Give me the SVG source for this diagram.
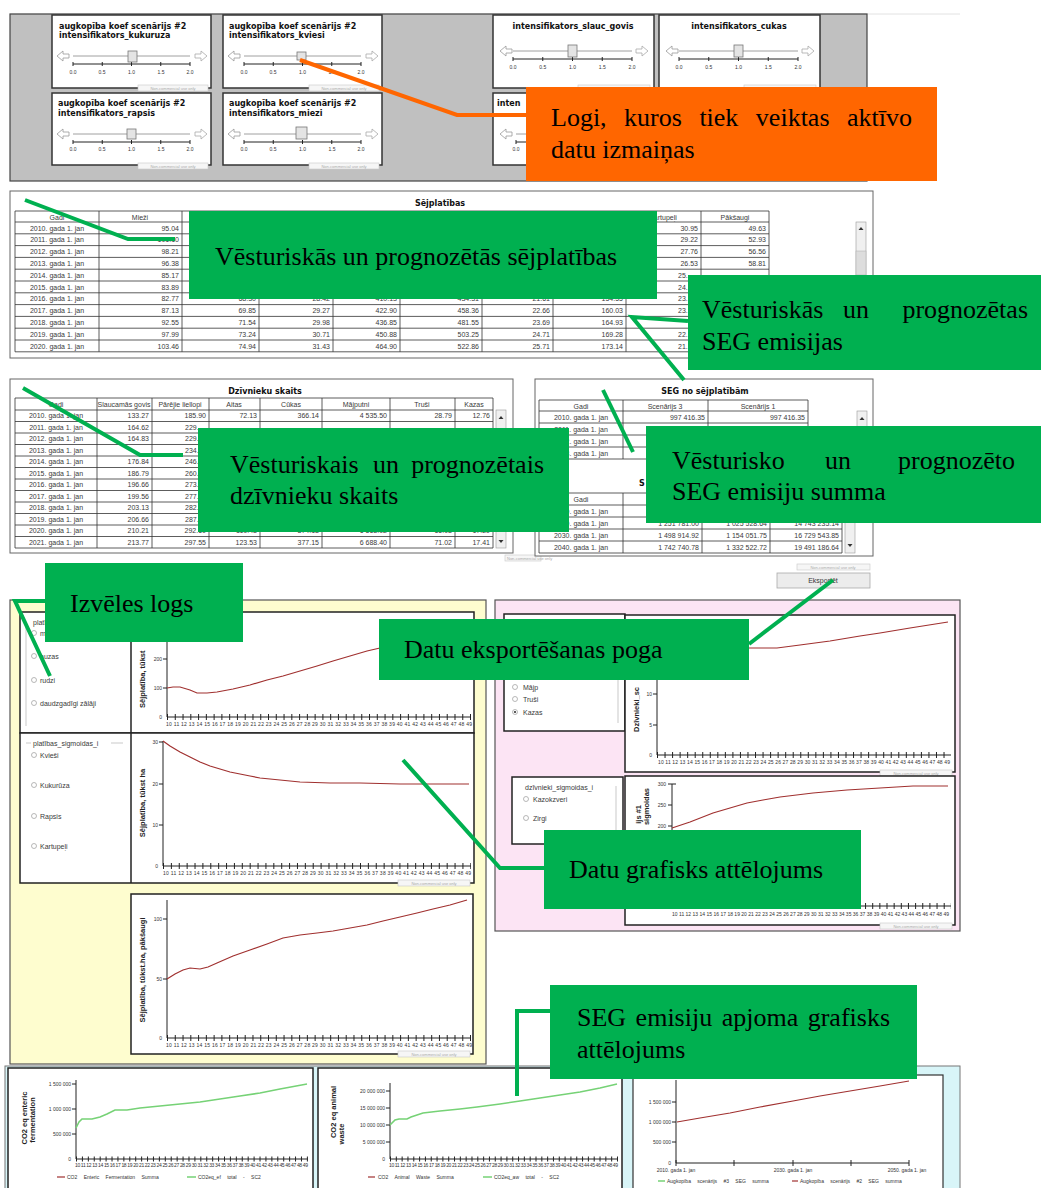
<svg xmlns="http://www.w3.org/2000/svg" width="1041" height="1188" viewBox="0 0 1041 1188">
<style>
.t7{font-family:"Liberation Sans",Arial,sans-serif;font-size:7px;fill:#3a3a3a}
.tv{text-anchor:end}
.tc{text-anchor:middle}
.tt{font-family:"DejaVu Sans",sans-serif;font-size:8px;font-weight:bold;fill:#111}
.ax{font-family:"Liberation Sans",Arial,sans-serif;font-size:5px;fill:#333}
.yl{font-family:"Liberation Sans",Arial,sans-serif;font-size:7.5px;font-weight:bold;fill:#222}
.nc{font-family:"Liberation Sans",Arial,sans-serif;font-size:4px;fill:#aaa}
.ncb{fill:#f6f6f6;stroke:#c8c8c8;stroke-width:0.6}
.ct{font-family:"Liberation Serif","Times New Roman",serif;font-size:26px;fill:#000}
.grid{fill:none;stroke:#333;stroke-width:0.8}
.box{fill:#fff;stroke:#333;stroke-width:1.5}
.frm{fill:#fff;stroke:#222;stroke-width:1.5}
.co{fill:none;stroke:#00B050;stroke-width:4;stroke-linejoin:miter}
.oc{fill:none;stroke:#FF6600;stroke-width:4}
.cg{fill:#00B050}
.cr{fill:none;stroke:#A0302F;stroke-width:1.2}
.cgr{fill:none;stroke:#76D276;stroke-width:1.6}
.axl{fill:none;stroke:#222;stroke-width:1}
.thumb{fill:#e4e4e4;stroke:#777;stroke-width:0.8}
.rad{fill:#fff;stroke:#999;stroke-width:0.7}
.sb{fill:#f0f0f0;stroke:#999;stroke-width:0.6}
</style>
<defs>
<g id="sl">
<path d="M5,41 l6,-5 v3 h6 v4 h-6 v3 z" fill="#fff" stroke="#999" stroke-width="0.8"/>
<line x1="21" y1="41" x2="138" y2="41" stroke="#888" stroke-width="0.8"/>
<path d="M155,41 l-6,-5 v3 h-6 v4 h6 v3 z" fill="#fff" stroke="#aaa" stroke-width="0.8"/>
<line x1="21" y1="49" x2="138" y2="49" stroke="#222" stroke-width="1"/>
<path d="M21,47 v4 M50.25,47 v4 M79.5,47 v4 M108.75,47 v4 M138,47 v4" stroke="#222" stroke-width="1"/>
</g>
<g id="sl2">
<path d="M7,36 l6,-5 v3 h6 v4 h-6 v3 z" fill="#fff" stroke="#999" stroke-width="0.8"/>
<line x1="20" y1="36" x2="139" y2="36" stroke="#888" stroke-width="0.8"/>
<path d="M155,36 l-6,-5 v3 h-6 v4 h6 v3 z" fill="#fff" stroke="#aaa" stroke-width="0.8"/>
<line x1="20" y1="44" x2="139" y2="44" stroke="#222" stroke-width="1"/>
<path d="M20,42 v4 M49.75,42 v4 M79.5,42 v4 M109.25,42 v4 M139,42 v4" stroke="#222" stroke-width="1"/>
</g>
</defs>

<rect width="1041" height="1188" fill="#fff"/>

<!-- ===== Top slider panel ===== -->
<g id="slider-panel">
<line x1="10" y1="14" x2="960" y2="14" stroke="#e2e2e2" stroke-width="1"/>
<rect x="10" y="14" width="857" height="167" fill="#c0c0c0" stroke="#444" stroke-width="1.2"/>
<rect class="box" x="52" y="15" width="159" height="73"/>
<text class="tt" x="59" y="29">augkopība koef scenārijs #2</text>
<text class="tt" x="59" y="38">intensifikators_kukuruza</text>
<use href="#sl" x="52" y="15"/>
<rect class="thumb" x="128" y="51" width="9" height="11"/>
<g class="ax tc"><text x="73" y="74">0.0</text><text x="102" y="74">0.5</text><text x="131.5" y="74">1.0</text><text x="161" y="74">1.5</text><text x="190" y="74">2.0</text></g>
<rect class="ncb" x="138" y="85" width="70" height="6"/><text class="nc" x="173" y="89.8" text-anchor="middle">Non-commercial use only</text>
<rect class="box" x="223" y="15" width="159" height="73"/>
<text class="tt" x="229" y="29">augkopība  koef scenārijs #2</text>
<text class="tt" x="229" y="38">intensifikators_kviesi</text>
<use href="#sl" x="223" y="15"/>
<rect class="thumb" x="297" y="52" width="9" height="8"/>
<g class="ax tc"><text x="244" y="74">0.0</text><text x="273" y="74">0.5</text><text x="302.5" y="74">1.0</text><text x="332" y="74">1.5</text><text x="361" y="74">2.0</text></g>
<rect class="ncb" x="309" y="85" width="70" height="6"/><text class="nc" x="344" y="89.8" text-anchor="middle">Non-commercial use only</text>
<rect class="box" x="52" y="93" width="159" height="72"/>
<text class="tt" x="58" y="106">augkopība  koef scenārijs #2</text>
<text class="tt" x="58" y="116">intensifikators_rapsis</text>
<use href="#sl" x="52" y="93"/>
<rect class="thumb" x="127" y="129" width="9" height="10"/>
<g class="ax tc"><text x="73" y="151">0.0</text><text x="102" y="151">0.5</text><text x="131.5" y="151">1.0</text><text x="161" y="151">1.5</text><text x="190" y="151">2.0</text></g>
<rect class="ncb" x="138" y="163" width="70" height="6"/><text class="nc" x="173" y="167.8" text-anchor="middle">Non-commercial use only</text>
<rect class="box" x="223" y="93" width="159" height="72"/>
<text class="tt" x="229" y="106">augkopība  koef scenārijs #2</text>
<text class="tt" x="229" y="116">intensifikators_miezi</text>
<use href="#sl" x="223" y="93"/>
<rect class="thumb" x="296" y="127" width="11" height="12"/>
<g class="ax tc"><text x="244" y="151">0.0</text><text x="273" y="151">0.5</text><text x="302.5" y="151">1.0</text><text x="332" y="151">1.5</text><text x="361" y="151">2.0</text></g>
<rect class="ncb" x="309" y="163" width="70" height="6"/><text class="nc" x="344" y="167.8" text-anchor="middle">Non-commercial use only</text>
<rect class="box" x="493" y="15" width="161" height="73"/>
<text class="tt tc" x="573" y="29">intensifikators_slauc_govis</text>
<use href="#sl2" x="493" y="15"/>
<rect class="thumb" x="568" y="45" width="9" height="12"/>
<g class="ax tc"><text x="513" y="69">0.0</text><text x="542.75" y="69">0.5</text><text x="572.5" y="69">1.0</text><text x="602.25" y="69">1.5</text><text x="632" y="69">2.0</text></g>
<rect class="ncb" x="578" y="85" width="72" height="6"/>
<rect class="box" x="659" y="15" width="161" height="73"/>
<text class="tt tc" x="739" y="29">intensifikators_cukas</text>
<use href="#sl2" x="659" y="15"/>
<rect class="thumb" x="734" y="45" width="9" height="12"/>
<g class="ax tc"><text x="679" y="69">0.0</text><text x="708.75" y="69">0.5</text><text x="738.5" y="69">1.0</text><text x="768.25" y="69">1.5</text><text x="798" y="69">2.0</text></g>
<rect class="ncb" x="744" y="85" width="72" height="6"/>
<rect class="box" x="493" y="93" width="161" height="72"/>
<text class="tt" x="497" y="106">inten</text>
<use href="#sl" x="495" y="93"/>
<text class="ax tc" x="516" y="151">0.0</text>
</g>

<!-- ===== Sējplatības table ===== -->
<g id="sejplatibas-table">
<rect x="10" y="191" width="863" height="167" fill="#fff" stroke="#666" stroke-width="1"/>
<text class="tt tc" x="440" y="206">Sējplatības</text>
<path class="grid" d="M15,211 H769 M15,222 H769 M15,233.8 H769 M15,245.6 H769 M15,257.4 H769 M15,269.2 H769 M15,281 H769 M15,292.8 H769 M15,304.6 H769 M15,316.4 H769 M15,328.2 H769 M15,340 H769 M15,351.8 H769 M15,211 V351.8 M99,211 V351.8 M182,211 V351.8 M259,211 V351.8 M333,211 V351.8 M400,211 V351.8 M482,211 V351.8 M553,211 V351.8 M626,211 V351.8 M701,211 V351.8 M769,211 V351.8"/>
<g class="t7 tc"><text x="57" y="219.5">Gadi</text><text x="140" y="219.5">Mieži</text><text x="663" y="219.5">Kartupeļi</text><text x="735" y="219.5">Pākšaugi</text></g>
<g class="t7 tc">
<text x="57" y="230.5">2010. gada 1. jan</text><text x="57" y="242.3">2011. gada 1. jan</text><text x="57" y="254.1">2012. gada 1. jan</text><text x="57" y="265.9">2013. gada 1. jan</text><text x="57" y="277.7">2014. gada 1. jan</text><text x="57" y="289.5">2015. gada 1. jan</text><text x="57" y="301.3">2016. gada 1. jan</text><text x="57" y="313.1">2017. gada 1. jan</text><text x="57" y="324.9">2018. gada 1. jan</text><text x="57" y="336.7">2019. gada 1. jan</text><text x="57" y="348.5">2020. gada 1. jan</text>
</g>
<g class="t7 tv">
<text x="179" y="230.5">95.04</text><text x="179" y="242.3">101.10</text><text x="179" y="254.1">98.21</text><text x="179" y="265.9">96.38</text><text x="179" y="277.7">85.17</text><text x="179" y="289.5">83.89</text><text x="179" y="301.3">82.77</text><text x="179" y="313.1">87.13</text><text x="179" y="324.9">92.55</text><text x="179" y="336.7">97.99</text><text x="179" y="348.5">103.46</text>
<text x="256" y="301.3">68.30</text><text x="256" y="313.1">69.85</text><text x="256" y="324.9">71.54</text><text x="256" y="336.7">73.24</text><text x="256" y="348.5">74.94</text>
<text x="330" y="301.3">28.42</text><text x="330" y="313.1">29.27</text><text x="330" y="324.9">29.98</text><text x="330" y="336.7">30.71</text><text x="330" y="348.5">31.43</text>
<text x="397" y="301.3">410.13</text><text x="397" y="313.1">422.90</text><text x="397" y="324.9">436.85</text><text x="397" y="336.7">450.88</text><text x="397" y="348.5">464.90</text>
<text x="479" y="301.3">434.31</text><text x="479" y="313.1">458.36</text><text x="479" y="324.9">481.55</text><text x="479" y="336.7">503.25</text><text x="479" y="348.5">522.86</text>
<text x="550" y="301.3">21.61</text><text x="550" y="313.1">22.66</text><text x="550" y="324.9">23.69</text><text x="550" y="336.7">24.71</text><text x="550" y="348.5">25.71</text>
<text x="623" y="301.3">154.55</text><text x="623" y="313.1">160.03</text><text x="623" y="324.9">164.93</text><text x="623" y="336.7">169.28</text><text x="623" y="348.5">173.14</text>
<text x="698" y="230.5">30.95</text><text x="698" y="242.3">29.22</text><text x="698" y="254.1">27.76</text><text x="698" y="265.9">26.53</text>
<text x="766" y="230.5">49.63</text><text x="766" y="242.3">52.93</text><text x="766" y="254.1">56.56</text><text x="766" y="265.9">58.81</text>
</g>
<g class="t7"><text x="678" y="277.7">25.</text><text x="678" y="289.5">24.</text><text x="678" y="301.3">23.</text><text x="678" y="313.1">23.</text><text x="678" y="336.7">22.</text><text x="678" y="348.5">21.</text></g>
<rect class="sb" x="856" y="222" width="10" height="130"/>
<rect x="856" y="251" width="10" height="24" fill="#ddd" stroke="#aaa" stroke-width="0.5"/>
<path d="M858.5,230 l2.5,-3 l2.5,3 z" fill="#333"/>
<rect class="ncb" x="797" y="358" width="73" height="6"/><text class="nc" x="833" y="362.8" text-anchor="middle">Non-commercial use only</text>
</g>

<!-- ===== Dzīvnieku skaits table ===== -->
<g id="dzivnieku-table">
<rect x="10" y="379" width="503" height="174" fill="#fff" stroke="#666" stroke-width="1"/>
<text class="tt tc" x="265" y="394">Dzīvnieku skaits</text>
<path class="grid" d="M15,398 H493 M15,410 H493 M15,421.5 H493 M15,433 H493 M15,444.5 H493 M15,456 H493 M15,467.5 H493 M15,479 H493 M15,490.5 H493 M15,502 H493 M15,513.5 H493 M15,525 H493 M15,536.5 H493 M15,548 H493 M15,398 V548 M97,398 V548 M152,398 V548 M209,398 V548 M260,398 V548 M322,398 V548 M390,398 V548 M455,398 V548 M493,398 V548"/>
<g class="t7 tc" font-size="6.5"><text x="56" y="406.5">Gadi</text><text x="124" y="406.5">Slaucamās govis</text><text x="180" y="406.5">Pārējie liellopi</text><text x="234" y="406.5">Aitas</text><text x="291" y="406.5">Cūkas</text><text x="356" y="406.5">Mājputni</text><text x="422" y="406.5">Truši</text><text x="474" y="406.5">Kazas</text></g>
<g class="t7 tc">
<text x="56" y="418.3">2010. gada 1. jan</text><text x="56" y="429.8">2011. gada 1. jan</text><text x="56" y="441.3">2012. gada 1. jan</text><text x="56" y="452.8">2013. gada 1. jan</text><text x="56" y="464.3">2014. gada 1. jan</text><text x="56" y="475.8">2015. gada 1. jan</text><text x="56" y="487.3">2016. gada 1. jan</text><text x="56" y="498.8">2017. gada 1. jan</text><text x="56" y="510.3">2018. gada 1. jan</text><text x="56" y="521.8">2019. gada 1. jan</text><text x="56" y="533.3">2020. gada 1. jan</text><text x="56" y="544.8">2021. gada 1. jan</text>
</g>
<g class="t7 tv">
<text x="149" y="418.3">133.27</text><text x="149" y="429.8">164.62</text><text x="149" y="441.3">164.83</text><text x="149" y="464.3">176.84</text><text x="149" y="475.8">186.79</text><text x="149" y="487.3">196.66</text><text x="149" y="498.8">199.56</text><text x="149" y="510.3">203.13</text><text x="149" y="521.8">206.66</text><text x="149" y="533.3">210.21</text><text x="149" y="544.8">213.77</text>
<text x="206" y="418.3">185.90</text><text x="206" y="533.3">292.60</text><text x="206" y="544.8">297.55</text>
<text x="257" y="418.3">72.13</text><text x="257" y="533.3">119.43</text><text x="257" y="544.8">123.53</text>
<text x="319" y="418.3">366.14</text><text x="319" y="533.3">374.13</text><text x="319" y="544.8">377.15</text>
<text x="387" y="418.3">4 535.50</text><text x="387" y="533.3">6 568.02</text><text x="387" y="544.8">6 688.40</text>
<text x="452" y="418.3">28.79</text><text x="452" y="533.3">65.08</text><text x="452" y="544.8">71.02</text>
<text x="490" y="418.3">12.76</text><text x="490" y="533.3">17.29</text><text x="490" y="544.8">17.41</text>
</g>
<g class="t7"><text x="185" y="429.8">229.</text><text x="185" y="441.3">229.</text><text x="185" y="452.8">234.</text><text x="185" y="464.3">246.</text><text x="185" y="475.8">260.</text><text x="185" y="487.3">273.</text><text x="185" y="498.8">277.</text><text x="185" y="510.3">282.</text><text x="185" y="521.8">287.</text></g>
<rect class="sb" x="496" y="410" width="10" height="138"/>
<path d="M498.5,419 l2.5,-3 l2.5,3 z M498.5,540 l2.5,3 l2.5,-3 z" fill="#333"/>
<rect class="ncb" x="505" y="555" width="36" height="6"/><text class="nc" x="507" y="559.8">Non-commercial use only</text>
</g>

<!-- ===== SEG no sējplatībām table ===== -->
<g id="seg-table">
<rect x="535" y="379" width="338" height="177" fill="#fff" stroke="#666" stroke-width="1"/>
<text class="tt tc" x="705" y="394">SEG no sējplatībām</text>
<path class="grid" d="M539,400 H808 M539,411 H808 M539,423 H808 M539,435 H808 M539,447 H808 M539,459 H808 M539,400 V459 M623,400 V459 M708,400 V459 M808,400 V459"/>
<g class="t7 tc" font-size="6.5"><text x="581" y="408.5">Gadi</text><text x="665" y="408.5">Scenārijs 3</text><text x="758" y="408.5">Scenārijs 1</text></g>
<g class="t7 tc"><text x="581" y="419.5">2010. gada 1. jan</text><text x="581" y="431.5">2011. gada 1. jan</text><text x="581" y="443.5">2012. gada 1. jan</text><text x="581" y="455.5">2013. gada 1. jan</text></g>
<g class="t7 tv"><text x="705" y="419.5">997 416.35</text><text x="805" y="419.5">997 416.35</text></g>
<rect class="sb" x="857" y="411" width="10" height="48"/>
<path d="M859.5,420 l2.5,-3 l2.5,3 z" fill="#333"/>
<text class="tt" x="639" y="486">S</text>
<path class="grid" d="M539,493 H842 M539,505 H842 M539,517 H842 M539,529 H842 M539,541 H842 M539,553 H842 M539,493 V553 M623,493 V553 M702,493 V553 M770,493 V553 M842,493 V553"/>
<text class="t7 tc" font-size="6.5" x="581" y="501.5">Gadi</text>
<g class="t7 tc"><text x="581" y="513.5">2010. gada 1. jan</text><text x="581" y="525.5">2020. gada 1. jan</text><text x="581" y="537.5">2030. gada 1. jan</text><text x="581" y="549.5">2040. gada 1. jan</text></g>
<g class="t7 tv">
<text x="699" y="525.5">1 251 781.00</text><text x="767" y="525.5">1 025 528.64</text><text x="839" y="525.5">14 743 235.14</text>
<text x="699" y="537.5">1 498 914.92</text><text x="767" y="537.5">1 154 051.75</text><text x="839" y="537.5">16 729 543.85</text>
<text x="699" y="549.5">1 742 740.78</text><text x="767" y="549.5">1 332 522.72</text><text x="839" y="549.5">19 491 186.64</text>
</g>
<rect class="sb" x="845" y="505" width="10" height="48"/>
<path d="M847.5,544 l2.5,3 l2.5,-3 z" fill="#333"/>
<rect class="ncb" x="797" y="564" width="73" height="6"/><text class="nc" x="833" y="568.8" text-anchor="middle">Non-commercial use only</text>
</g>

<!-- Export button -->
<g id="export-button">
<rect x="777" y="573" width="93" height="15" fill="#ececec" stroke="#aaa" stroke-width="0.8"/>
<text class="t7 tc" x="823" y="583">Eksportēt</text>
</g>

<!-- ===== Yellow panel (plant areas) ===== -->
<g id="yellow-panel">
<rect x="10" y="600" width="476" height="464" fill="#fefdcf" stroke="#555" stroke-width="1.2"/>
<rect class="frm" x="20" y="612" width="454" height="121"/>
<rect class="frm" x="20" y="733" width="454" height="150"/>
<line x1="131" y1="612" x2="131" y2="883" stroke="#222" stroke-width="1.5"/>
<rect class="frm" x="131" y="894" width="342" height="160"/>
<line x1="26" y1="626" x2="26" y2="726" stroke="#bbb" stroke-width="0.8"/>
<text class="t7" x="33" y="625">platības</text>
<circle class="rad" cx="34" cy="633" r="2.5"/><text class="t7" x="40" y="636">m</text>
<circle class="rad" cx="34" cy="656" r="2.5"/><text class="t7" x="40" y="659">auzas</text>
<circle class="rad" cx="34" cy="680" r="2.5"/><text class="t7" x="40" y="683">rudzi</text>
<circle class="rad" cx="34" cy="703" r="2.5"/><text class="t7" x="40" y="706">daudzgadīgi zālāji</text>
<path d="M26,743 H31 M111,743 H123" stroke="#bbb" stroke-width="0.8"/>
<text class="t7" x="33" y="746">platības_sigmoidas_i</text>
<circle class="rad" cx="34" cy="755" r="2.5"/><text class="t7" x="40" y="758">Kvieši</text>
<circle class="rad" cx="34" cy="785" r="2.5"/><text class="t7" x="40" y="788">Kukurūza</text>
<circle class="rad" cx="34" cy="816" r="2.5"/><text class="t7" x="40" y="819">Rapsis</text>
<circle class="rad" cx="34" cy="846" r="2.5"/><text class="t7" x="40" y="849">Kartupeļi</text>
<text class="yl" transform="translate(145,708) rotate(-90)">Sējplatība, tūkst</text>
<path class="axl" d="M167,640 V717 H471"/>
<line x1="167" y1="717" x2="471" y2="717" stroke="#222" stroke-width="6" stroke-dasharray="1 6.77"/>
<path class="axl" d="M163,659 H167 M163,688 H167"/>
<g class="ax tv"><text x="162" y="661">200</text><text x="162" y="690">100</text><text x="162" y="719">0</text></g>
<text class="ax" x="166" y="725.5" textLength="306" lengthAdjust="spacing">10 11 12 13 14 15 16 17 18 19 20 21 22 23 24 25 26 27 28 29 30 31 32 33 34 35 36 37 38 39 40 41 42 43 44 45 46 47 48 49</text>
<polyline class="cr" points="167,688 173,687 180,687 190,690 197,693 207,693 217,692 233,689 250,685 267,680 283,676 300,671 317,666 333,661 350,656 367,651 380,648"/>
<text class="yl tc" transform="translate(145,803) rotate(-90)">Sējplatība, tūkst ha</text>
<path class="axl" d="M163,741 V866 H471"/>
<line x1="163" y1="866" x2="471" y2="866" stroke="#222" stroke-width="6" stroke-dasharray="1 6.88"/>
<path class="axl" d="M159,742 H163 M159,784 H163 M159,825 H163"/>
<g class="ax tv"><text x="158" y="744">30</text><text x="158" y="786">20</text><text x="158" y="827">10</text><text x="158" y="868">0</text></g>
<text class="ax" x="163" y="875" textLength="308" lengthAdjust="spacing">10 11 12 13 14 15 16 17 18 19 20 21 22 23 24 25 26 27 28 29 30 31 32 33 34 35 36 37 38 39 40 41 42 43 44 45 46 47 48 49</text>
<polyline class="cr" points="163,741 170,746 180,752 190,757 200,762 210,766 220,769 230,772 240,774 250,776 260,778 270,779 280,780 300,782 330,783 360,783 400,784 469,784"/>
<rect class="ncb" x="398" y="880" width="72" height="6"/><text class="nc" x="434" y="884.8" text-anchor="middle">Non-commercial use only</text>
<text class="yl tc" transform="translate(145,970) rotate(-90)">Sējplatība, tūkst.ha, pākšaugi</text>
<path class="axl" d="M167,900 V1038 H471"/>
<line x1="167" y1="1038" x2="471" y2="1038" stroke="#222" stroke-width="6" stroke-dasharray="1 6.77"/>
<path class="axl" d="M163,919 H167 M163,979 H167"/>
<g class="ax tv"><text x="162" y="921">100</text><text x="162" y="981">50</text><text x="162" y="1040">0</text></g>
<text class="ax" x="166" y="1046.5" textLength="306" lengthAdjust="spacing">10 11 12 13 14 15 16 17 18 19 20 21 22 23 24 25 26 27 28 29 30 31 32 33 34 35 36 37 38 39 40 41 42 43 44 45 46 47 48 49</text>
<polyline class="cr" points="167,979 175,974 183,970 190,968 200,969 208,967 217,963 233,956 250,950 267,944 283,938 300,935 317,933 333,931 350,928 367,925 383,921 400,917 417,913 433,909 450,905 467,900"/>
<rect class="ncb" x="398" y="1051" width="72" height="6"/><text class="nc" x="434" y="1055.8" text-anchor="middle">Non-commercial use only</text>
</g>

<!-- ===== Pink panel (animals) ===== -->
<g id="pink-panel">
<rect x="495" y="600" width="465" height="331" fill="#fce4f4" stroke="#555" stroke-width="1.2"/>
<rect class="frm" x="504" y="614" width="121" height="117"/>
<line x1="618" y1="640" x2="618" y2="723" stroke="#bbb" stroke-width="0.8"/>
<circle class="rad" cx="515" cy="687" r="2.5"/><text class="t7" x="523" y="690">Mājp</text>
<circle class="rad" cx="515" cy="699" r="2.5"/><text class="t7" x="523" y="702">Truši</text>
<circle class="rad" cx="515" cy="712" r="2.5"/><circle cx="515" cy="712" r="1.1" fill="#333"/><text class="t7" x="523" y="715">Kazas</text>
<rect class="frm" x="625" y="615" width="330" height="157"/>
<text class="yl" transform="translate(639,732) rotate(-90)">Dzīvnieki_sc</text>
<path class="axl" d="M657,640 V755 H951"/>
<line x1="657" y1="755" x2="951" y2="755" stroke="#222" stroke-width="6" stroke-dasharray="1 6.54"/>
<path class="axl" d="M653,694 H657 M653,725 H657"/>
<g class="ax tv"><text x="652" y="696">10</text><text x="652" y="727">5</text><text x="652" y="757">0</text></g>
<text class="ax" x="658" y="764" textLength="292" lengthAdjust="spacing">10 11 12 13 14 15 16 17 18 19 20 21 22 23 24 25 26 27 28 29 30 31 32 33 34 35 36 37 38 39 40 41 42 43 44 45 46 47 48 49</text>
<polyline class="cr" points="749,648 777,648 800,645 830,641 860,636 880,633 910,628 948,622"/>
<rect class="ncb" x="880" y="770" width="72" height="6"/><text class="nc" x="916" y="774.8" text-anchor="middle">Non-commercial use only</text>
<rect class="frm" x="512" y="777" width="111" height="67"/>
<line x1="616" y1="786" x2="616" y2="836" stroke="#bbb" stroke-width="0.8"/>
<text class="t7" x="525" y="790">dzīvnieki_sigmoidas_i</text>
<circle class="rad" cx="526" cy="799" r="2.5"/><text class="t7" x="533" y="802">Kazokzveri</text>
<circle class="rad" cx="526" cy="818" r="2.5"/><text class="t7" x="533" y="821">Zirgi</text>
<rect class="frm" x="625" y="776" width="330" height="149"/>
<text class="yl tv" transform="translate(641,805) rotate(-90)">ijs #1</text>
<text class="yl tv" transform="translate(649,788) rotate(-90)">sigmoidas</text>
<path class="axl" d="M672,784 V906 H951"/>
<line x1="672" y1="906" x2="951" y2="906" stroke="#222" stroke-width="6" stroke-dasharray="1 6.15"/>
<path class="axl" d="M668,784 H676 M668,805 H672 M668,826 H672"/>
<g class="ax tv"><text x="666" y="786">300</text><text x="666" y="807">250</text><text x="666" y="828">200</text></g>
<text class="ax" x="672" y="916" textLength="277" lengthAdjust="spacing">10 11 12 13 14 15 16 17 18 19 20 21 22 23 24 25 26 27 28 29 30 31 32 33 34 35 36 37 38 39 40 41 42 43 44 45 46 47 48 49</text>
<polyline class="cr" points="672,828 690,822 713,813 730,808 747,803 763,800 780,797 813,793 847,790 880,788 913,786 948,786"/>
<rect class="ncb" x="880" y="923" width="72" height="6"/><text class="nc" x="916" y="927.8" text-anchor="middle">Non-commercial use only</text>
</g>

<!-- ===== Bottom emissions charts ===== -->
<g id="emission-charts">
<rect x="5" y="1066" width="955" height="124" fill="#d8f5f8" stroke="#777" stroke-width="1"/>
<rect class="frm" x="8" y="1068" width="305" height="122"/>
<rect class="frm" x="318" y="1068" width="304" height="122"/>
<rect x="633" y="1075" width="310" height="115" fill="#fff" stroke="#333" stroke-width="1.2"/>
<text class="yl tc" transform="translate(27,1118) rotate(-90)">CO2 eq enteric</text>
<text class="yl tc" transform="translate(35,1120) rotate(-90)">fermentation</text>
<path class="axl" d="M76,1080 V1159 H308"/>
<line x1="76" y1="1159" x2="308" y2="1159" stroke="#222" stroke-width="5" stroke-dasharray="1 4.92"/>
<path class="axl" d="M72,1084 H76 M72,1109 H76 M72,1134 H76"/>
<g class="ax tv" font-size="4.5"><text x="71" y="1086">1 500 000</text><text x="71" y="1111">1 000 000</text><text x="71" y="1136">500 000</text><text x="71" y="1161">0</text></g>
<text class="ax" x="75" y="1167" font-size="4" textLength="233" lengthAdjust="spacing">10 11 12 13 14 15 16 17 18 19 20 21 22 23 24 25 26 27 28 29 30 31 32 33 34 35 36 37 38 39 40 41 42 43 44 45 46 47 48 49</text>
<polyline class="cgr" points="76,1128 79,1122 82,1119 92,1119 100,1117 107,1114 115,1110 127,1110 140,1108 160,1106 180,1104 200,1102 220,1099 240,1096 260,1093 280,1089 307,1084"/>
<line x1="57" y1="1177" x2="65" y2="1177" stroke="#A0302F" stroke-width="1.2"/>
<text class="ax" x="67" y="1179" word-spacing="5">CO2 Enteric Fermentation Summa</text>
<line x1="187" y1="1177" x2="196" y2="1177" stroke="#76D276" stroke-width="1.5"/>
<text class="ax" x="198" y="1179" word-spacing="5">CO2eq_ef total - SC2</text>
<text class="yl tc" transform="translate(336,1112) rotate(-90)">CO2 eq animal</text>
<text class="yl tc" transform="translate(344,1134) rotate(-90)">waste</text>
<path class="axl" d="M390,1083 V1159 H618"/>
<line x1="390" y1="1159" x2="618" y2="1159" stroke="#222" stroke-width="5" stroke-dasharray="1 4.82"/>
<path class="axl" d="M386,1091 H390 M386,1108 H390 M386,1125 H390 M386,1142 H390"/>
<g class="ax tv" font-size="4.5"><text x="385" y="1093">20 000 000</text><text x="385" y="1110">15 000 000</text><text x="385" y="1127">10 000 000</text><text x="385" y="1144">5 000 000</text><text x="385" y="1161">0</text></g>
<text class="ax" x="389" y="1167" font-size="4" textLength="229" lengthAdjust="spacing">10 11 12 13 14 15 16 17 18 19 20 21 22 23 24 25 26 27 28 29 30 31 32 33 34 35 36 37 38 39 40 41 42 43 44 45 46 47 48 49</text>
<polyline class="cgr" points="390,1125 395,1120 399,1119 407,1119 411,1117 423,1113 440,1111 460,1109 477,1107 500,1104 520,1101 540,1098 560,1095 580,1092 600,1088 617,1084"/>
<line x1="368" y1="1177" x2="375" y2="1177" stroke="#A0302F" stroke-width="1.2"/>
<text class="ax" x="378" y="1179" word-spacing="5">CO2 Animal Waste Summa</text>
<line x1="483" y1="1177" x2="492" y2="1177" stroke="#76D276" stroke-width="1.5"/>
<text class="ax" x="494" y="1179" word-spacing="5">CO2eq_aw total - SC2</text>
<path class="axl" d="M676,1080 V1163 H909"/>
<path class="axl" d="M672,1102 H676 M672,1122 H676 M672,1142 H676 M676,1160 V1166 M734,1160 V1166 M793,1160 V1166 M851,1160 V1166 M909,1160 V1166"/>
<g class="ax tv" font-size="4.5"><text x="671" y="1104">1 500 000</text><text x="671" y="1124">1 000 000</text><text x="671" y="1144">500 000</text><text x="671" y="1165">0</text></g>
<g class="ax tc" font-size="4.5"><text x="676" y="1172">2010. gada 1. jan</text><text x="793" y="1172">2030. gada 1. jan</text><text x="907" y="1172">2050. gada 1. jan</text></g>
<polyline class="cr" points="677,1122 700,1118 730,1113 760,1107 793,1101 820,1096 850,1091 880,1086 909,1081"/>
<line x1="658" y1="1181" x2="665" y2="1181" stroke="#76D276" stroke-width="1.5"/>
<text class="ax" x="667" y="1183" font-size="4.5" word-spacing="5">Augkopība scenārijs #3 SEG summa</text>
<line x1="792" y1="1181" x2="798" y2="1181" stroke="#A0302F" stroke-width="1.2"/>
<text class="ax" x="800" y="1183" font-size="4.5" word-spacing="5">Augkopība scenārijs #2 SEG summa</text>
</g>

<!-- ===== Connectors ===== -->
<g id="connectors">
<polyline class="oc" points="300,60 457,115 526,115"/>
<polyline class="co" points="25,200 128,239 175,239"/>
<polyline class="co" points="688,321 632,317 684,380"/>
<polyline class="co" points="23,388 140,455 183,455"/>
<polyline class="co" points="603,390 633,452"/>
<polyline class="co" points="45,601 15,601 50,676"/>
<polyline class="co" points="749,644 833,580"/>
<polyline class="co" points="403,760 500,868 544,868"/>
<polyline class="co" points="517,1096 517,1011 550,1011"/>
</g>

<!-- ===== Callouts ===== -->
<g id="callout-logi">
<rect x="526" y="87" width="411" height="94" fill="#FF6600"/>
<text class="ct" x="551" y="126" word-spacing="11">Logi, kuros tiek veiktas aktīvo</text>
<text class="ct" x="551" y="158">datu izmaiņas</text>
</g>
<g id="callout-sejplatibas">
<rect class="cg" x="189" y="211" width="468" height="88"/>
<text class="ct" x="215" y="265">Vēsturiskās un prognozētās sējplatības</text>
</g>
<g id="callout-seg-emisijas">
<rect class="cg" x="688" y="275" width="353" height="95"/>
<text class="ct" x="702" y="318">Vēsturiskās</text>
<text class="ct tc" x="856" y="318">un</text>
<text class="ct tv" x="1028" y="318">prognozētas</text>
<text class="ct" x="702" y="350">SEG emisijas</text>
</g>
<g id="callout-dzivnieki">
<rect class="cg" x="198" y="428" width="371" height="104"/>
<text class="ct" x="230" y="473">Vēsturiskais</text>
<text class="ct tc" x="386" y="473">un</text>
<text class="ct tv" x="544" y="473">prognozētais</text>
<text class="ct" x="230" y="504">dzīvnieku skaits</text>
</g>
<g id="callout-seg-summa">
<rect class="cg" x="646" y="426" width="395" height="97"/>
<text class="ct" x="672" y="469">Vēsturisko</text>
<text class="ct tc" x="838" y="469">un</text>
<text class="ct tv" x="1015" y="469">prognozēto</text>
<text class="ct" x="672" y="500">SEG emisiju summa</text>
</g>
<g id="callout-izveles">
<rect class="cg" x="45" y="563" width="198" height="79"/>
<text class="ct" x="70" y="612">Izvēles logs</text>
</g>
<g id="callout-eksports">
<rect class="cg" x="379" y="619" width="370" height="61"/>
<text class="ct" x="404" y="658">Datu eksportēšanas poga</text>
</g>
<g id="callout-grafisks">
<rect class="cg" x="544" y="830" width="317" height="79"/>
<text class="ct" x="569" y="878">Datu grafisks attēlojums</text>
</g>
<g id="callout-seg-apjoms">
<rect class="cg" x="550" y="985" width="367" height="94"/>
<text class="ct" x="577" y="1026" word-spacing="3">SEG emisiju apjoma grafisks</text>
<text class="ct" x="577" y="1058">attēlojums</text>
</g>
</svg>
